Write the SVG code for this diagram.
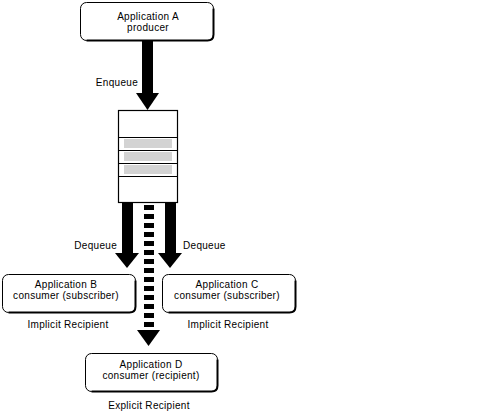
<svg xmlns="http://www.w3.org/2000/svg" width="496" height="417" viewBox="0 0 496 417">
<style>
text{font-family:"Liberation Sans",Arial,sans-serif;font-size:10px;letter-spacing:0.3px;fill:#000}
.c{text-anchor:middle}
.box{fill:#fff;stroke:#000;stroke-width:1}
.sh{fill:none;stroke:#000;stroke-width:2}
.ar{fill:#000}
.bar{fill:#d3d3d3}
</style>
<rect width="496" height="417" fill="#fff"/>
<g id="appA">
<rect class="box" x="80.5" y="2.5" width="133" height="38" rx="6"/>
<path class="sh" d="M213.5,8.5V34.5Q213.5,40.5 207.5,40.5H86.5"/>
<text class="c" x="148" y="20">Application A</text>
<text class="c" x="148" y="31">producer</text>
</g>
<g id="queue">
<rect x="118.5" y="110.5" width="59" height="92" fill="#fff" stroke="#000" stroke-width="1.2"/>
<path d="M118.5,137.5H177.5M118.5,150.5H177.5M118.5,163.5H177.5M118.5,176.5H177.5" stroke="#000" stroke-width="1.2" fill="none"/>
<rect class="bar" x="124" y="139" width="48" height="9"/>
<rect class="bar" x="124" y="152" width="48" height="9"/>
<rect class="bar" x="124" y="165" width="48" height="9"/>
</g>
<g id="appB">
<rect class="box" x="2.5" y="274.5" width="133" height="38" rx="6"/>
<path class="sh" d="M135.5,280.5V306.5Q135.5,312.5 129.5,312.5H8.5"/>
<text class="c" x="66" y="288">Application B</text>
<text class="c" x="66" y="299">consumer (subscriber)</text>
<text class="c" x="68" y="328">Implicit Recipient</text>
</g>
<g id="appC">
<rect class="box" x="162.5" y="274.5" width="133" height="38" rx="6"/>
<path class="sh" d="M295.5,280.5V306.5Q295.5,312.5 289.5,312.5H168.5"/>
<text class="c" x="227" y="288">Application C</text>
<text class="c" x="227" y="299">consumer (subscriber)</text>
<text class="c" x="228" y="328">Implicit Recipient</text>
</g>
<g id="appD">
<rect class="box" x="85.5" y="353.5" width="132" height="38" rx="6"/>
<path class="sh" d="M217.5,359.5V385.5Q217.5,391.5 211.5,391.5H91.5"/>
<text class="c" x="151" y="368">Application D</text>
<text class="c" x="151" y="379">consumer (recipient)</text>
<text class="c" x="149" y="409">Explicit Recipient</text>
</g>
<g id="connectors">
<rect class="ar" x="142" y="41" width="11" height="53"/>
<polygon class="ar" points="136,93 159,93 147.5,110"/>
<text x="138" y="86" text-anchor="end">Enqueue</text>
<rect class="ar" x="122" y="203" width="11" height="51"/>
<polygon class="ar" points="115,253 139,253 127,268"/>
<text x="117" y="249" text-anchor="end">Dequeue</text>
<rect class="ar" x="165" y="203" width="11" height="51"/>
<polygon class="ar" points="158,253 182,253 170,268"/>
<text x="183" y="249">Dequeue</text>
<line x1="149" y1="205" x2="149" y2="330" stroke="#000" stroke-width="10" stroke-dasharray="5 4"/>
<polygon class="ar" points="137,330 160,330 148.5,346"/>
</g>
</svg>
